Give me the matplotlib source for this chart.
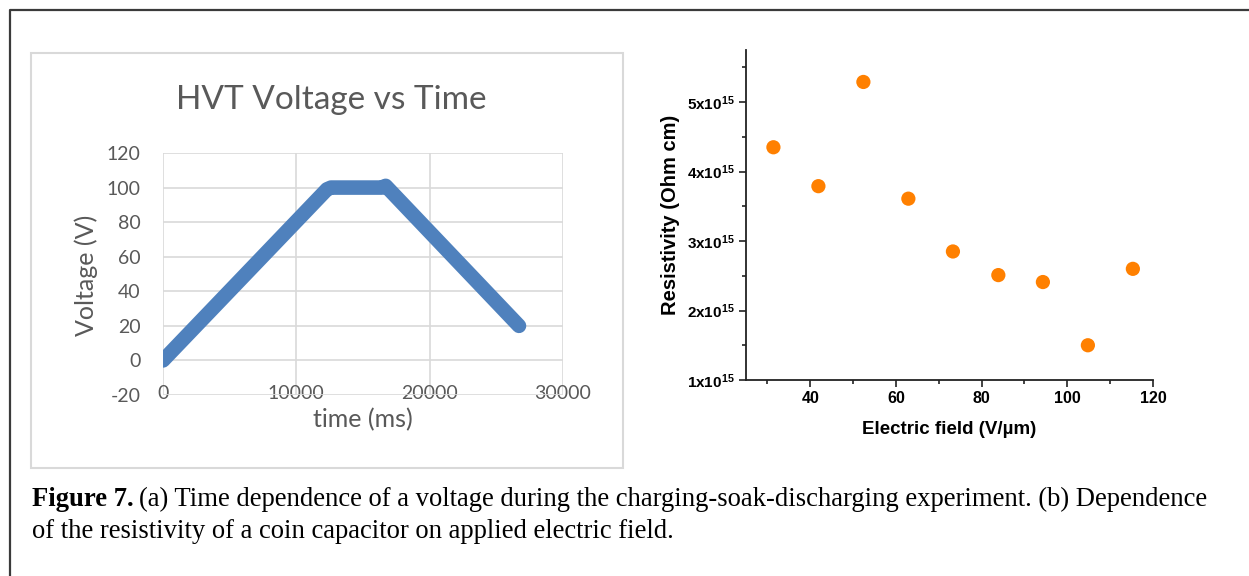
import matplotlib
matplotlib.use("Agg")
import matplotlib.pyplot as plt
from matplotlib.patches import Rectangle
from matplotlib.lines import Line2D

plt.rcParams['mathtext.default'] = 'regular'
plt.rcParams['axes.unicode_minus'] = False

# (a) HVT voltage vs time
time_ms = [0, 12300, 12600, 16400, 16700, 26700]
voltage = [0, 99, 100, 100, 101, 20]

# (b) resistivity vs electric field
field = [31.4, 41.9, 52.4, 62.9, 73.3, 83.9, 94.3, 104.8, 115.3]
resistivity = [4.35e15, 3.79e15, 5.29e15, 3.61e15, 2.85e15, 2.51e15, 2.41e15, 1.50e15, 2.60e15]

res_ticks = [1e15, 2e15, 3e15, 4e15, 5e15]
res_labels = ['1x10$^{15}$', '2x10$^{15}$', '3x10$^{15}$', '4x10$^{15}$', '5x10$^{15}$']

W, H = 1249, 576
fig = plt.figure(figsize=(W / 100, H / 100), dpi=100)

# outer frame (only top and left visible)
fig.add_artist(Line2D([10 / W, 10 / W, 1], [0, 1 - 10 / H, 1 - 10 / H],
                      color='#3a3a3a', lw=1.6, transform=fig.transFigure))

# excel chart area border
fig.add_artist(Rectangle((31 / W, 1 - 468 / H), 592 / W, 415 / H, fill=False,
                         edgecolor='#d9d9d9', lw=1.5, transform=fig.transFigure))

# ---- left panel (Excel style)
xl_font = 'Lato'
xl_col = '#595959'
ax1 = fig.add_axes([163 / W, 1 - 395 / H, 400 / W, 242 / H])
ax1.plot(time_ms, voltage, color='#4f81bd', lw=10.5, solid_capstyle='round',
         solid_joinstyle='round', zorder=3)
ax1.set_xlim(0, 30000)
ax1.set_ylim(-20, 120)
ax1.set_xticks([0, 10000, 20000, 30000])
ax1.set_yticks(range(-20, 121, 20))
ax1.grid(True, color='#d9d9d9', lw=1.2)
for s in ax1.spines.values():
    s.set_visible(False)
ax1.tick_params(length=0, labelcolor=xl_col, labelsize=14)
ax1.tick_params(axis='y', pad=16)
ax1.tick_params(axis='x', pad=-7)
for lab in ax1.get_xticklabels() + ax1.get_yticklabels():
    lab.set_family(xl_font)

fig.text(331 / W, 1 - 100 / H, 'HVT Voltage vs Time', ha='center', va='center',
         fontsize=24, color=xl_col, family=xl_font)
fig.text(363 / W, 1 - 420 / H, 'time (ms)', ha='center', va='center',
         fontsize=18, color=xl_col, family=xl_font)
fig.text(86 / W, 1 - 275 / H, 'Voltage (V)', ha='center', va='center',
         rotation=90, fontsize=18, color=xl_col, family=xl_font)

# ---- right panel (Origin style)
og_font = 'Liberation Sans'
ax2 = fig.add_axes([746 / W, 1 - 380 / H, 407 / W, 330 / H])
ax2.scatter(field, resistivity, s=105, color='#ff8000', edgecolors='none', zorder=3)
ax2.set_xlim(25, 120)
ax2.set_ylim(1e15, 5.75e15)
ax2.set_xticks([40, 60, 80, 100, 120])
ax2.set_xticks([30, 50, 70, 90, 110], minor=True)
ax2.set_yticks(res_ticks)
ax2.set_yticklabels(res_labels)
ax2.set_yticks([1.5e15, 2.5e15, 3.5e15, 4.5e15, 5.5e15], minor=True)
ax2.spines['top'].set_visible(False)
ax2.spines['right'].set_visible(False)
for s in ['left', 'bottom']:
    ax2.spines[s].set_linewidth(1.3)
    ax2.spines[s].set_color('#222222')
ax2.tick_params(which='major', direction='out', length=5, width=1.2, color='#222222')
ax2.tick_params(which='minor', direction='out', length=3, width=1.2, color='#222222')
ax2.tick_params(axis='x', pad=3)
ax2.tick_params(axis='y', pad=3)
for lab in ax2.get_xticklabels():
    lab.set_family(og_font)
    lab.set_fontweight('bold')
    lab.set_fontsize(11.5)
for lab in ax2.get_yticklabels():
    lab.set_family(og_font)
    lab.set_fontweight('bold')
    lab.set_fontsize(11)
ax2.set_xlabel('Electric field (V/\u00b5m)', family=og_font, fontweight='bold',
               fontsize=13.5, labelpad=11)
ax2.set_ylabel('Resistivity (Ohm cm)', family=og_font, fontweight='bold',
               fontsize=14.5, labelpad=5)

# ---- caption
cap_font = 'Liberation Serif'
cap_size = 19.2
bold_part = fig.text(32 / W, 1 - 506 / H, 'Figure 7.', ha='left', va='baseline',
                     fontsize=cap_size, fontweight='bold', family=cap_font)
fig.canvas.draw()
bb = bold_part.get_window_extent()
fig.text(bb.x1 / W + 5 / W, 1 - 506 / H,
         '(a) Time dependence of a voltage during the charging-soak-discharging '
         'experiment. (b) Dependence',
         ha='left', va='baseline', fontsize=cap_size, family=cap_font)
fig.text(32 / W, 1 - 538 / H,
         'of the resistivity of a coin capacitor on applied electric field.',
         ha='left', va='baseline', fontsize=cap_size, family=cap_font)

fig.savefig('out.png', dpi=100)
